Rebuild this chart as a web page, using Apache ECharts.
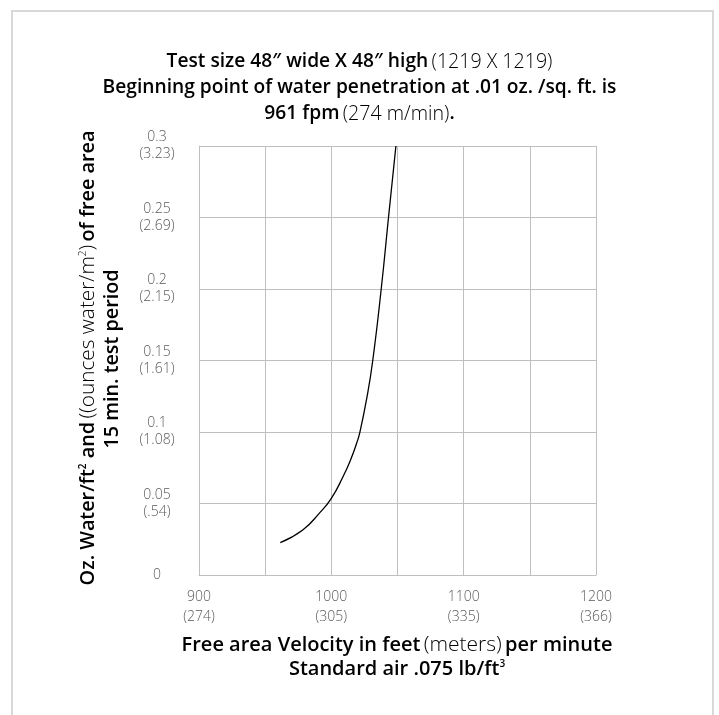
<!DOCTYPE html>
<html>
<head>
<meta charset="utf-8">
<script src="https://cdn.jsdelivr.net/npm/echarts@6/dist/echarts.min.js"></script>
<style>
html,body{margin:0;padding:0;background:#fff;}
#chart{width:719px;height:715px;}
</style>
</head>
<body>
<div id="chart"></div>
<script>
// ---- data ----
var velocityFpm = [961.4, 978.4, 991.0, 1000.0, 1008.8, 1014.5, 1019.1, 1021.5, 1027.0, 1031.3, 1037.7, 1043.2, 1048.8];
var waterOz     = [0.0226, 0.0315, 0.0433, 0.0536, 0.0687, 0.0804, 0.0921, 0.0995, 0.1247, 0.15, 0.2, 0.25, 0.3];
var xTickValues = [900, 1000, 1100, 1200];
var xTickMetric = ['(274)', '(305)', '(335)', '(366)'];
var yTickValues = [0, 0.05, 0.1, 0.15, 0.2, 0.25, 0.3];
var yTickLabels = ['0', '0.05', '0.1', '0.15', '0.2', '0.25', '0.3'];
var yTickMetric = ['', '(.54)', '(1.08)', '(1.61)', '(2.15)', '(2.69)', '(3.23)'];

var FONT = '"Open Sans", Lato, sans-serif';
var DARK = '#5a5a5a';
var LIGHT = '#6a6a6a';

var seriesData = velocityFpm.map(function (v, i) { return [v, waterOz[i]]; });

function richStyles(bSize, lSize) {
  return {
    b: { fontFamily: FONT, fontSize: bSize, fontWeight: 600, color: DARK },
    l: { fontFamily: FONT, fontSize: lSize, fontWeight: 300, color: LIGHT },
    bs: { fontFamily: FONT, fontSize: 10, fontWeight: 600, color: DARK, padding: [0, 0, 9, 0] },
    ls: { fontFamily: FONT, fontSize: 10, fontWeight: 300, color: LIGHT, padding: [0, 0, 9, 0] }
  };
}

function textEl(x, y, text, rot, bSize, lSize) {
  return {
    type: 'text',
    x: x, y: y,
    rotation: rot || 0,
    style: {
      text: text,
      align: 'center',
      verticalAlign: 'middle',
      rich: richStyles(bSize, lSize)
    }
  };
}

var chart = echarts.init(document.getElementById('chart'));
chart.setOption({
  animation: false,
  backgroundColor: '#fff',
  grid: { left: 199, top: 146, width: 397, height: 429, containLabel: false },
  xAxis: {
    type: 'value',
    min: 900, max: 1200, interval: 50,
    axisLine: { show: true, lineStyle: { color: '#bfbfbf', width: 1 } },
    axisTick: { show: false },
    splitLine: { show: true, lineStyle: { color: '#bfbfbf', width: 1 } },
    axisLabel: {
      margin: 12,
      fontFamily: FONT, fontSize: 14, fontWeight: 300, color: DARK, lineHeight: 20,
      formatter: function (v) {
        var i = xTickValues.indexOf(v);
        return i < 0 ? '' : v + '\n' + xTickMetric[i];
      }
    }
  },
  yAxis: {
    type: 'value',
    min: 0, max: 0.3, interval: 0.05,
    axisLine: { show: true, lineStyle: { color: '#bfbfbf', width: 1 } },
    axisTick: { show: false },
    splitLine: { show: true, lineStyle: { color: '#bfbfbf', width: 1 } },
    axisLabel: {
      margin: 42, align: 'center',
      fontFamily: FONT, fontSize: 14, fontWeight: 300, color: DARK, lineHeight: 17,
      padding: [5, 0, 0, 0],
      formatter: function (v) {
        var i = -1;
        for (var k = 0; k < yTickValues.length; k++) { if (Math.abs(yTickValues[k] - v) < 1e-9) i = k; }
        if (i < 0) return '';
        return yTickMetric[i] ? yTickLabels[i] + '\n' + yTickMetric[i] : yTickLabels[i];
      }
    }
  },
  series: [{
    type: 'line',
    data: seriesData,
    smooth: 0.5,
    showSymbol: false,
    lineStyle: { color: '#000', width: 1.3 }
  }],
  graphic: [
    { type: 'rect', shape: { x: 12, y: 11, width: 701, height: 730 }, style: { fill: 'none', stroke: '#d9d9d9', lineWidth: 2 } },
    textEl(359.5, 62, '{b|Test size 48″ wide X 48″ high} {l|(1219 X 1219)}', 0, 19.2, 19.6),
    textEl(359.5, 88, '{b|Beginning point of water penetration at .01 oz. /sq. ft. is}', 0, 19.2, 19.6),
    textEl(359.5, 114, '{b|961 fpm} {l|(274 m/min)}{b|.}', 0, 19.2, 19.6),
    textEl(88, 358, '{b|Oz. Water/ft}{bs|2}{b| and} {l|((ounces water/m}{ls|2}{l|)} {b|of free area}', Math.PI / 2, 19.8, 20.8),
    textEl(112, 359, '{b|15 min. test period}', Math.PI / 2, 19.8, 20.8),
    textEl(397, 645, '{b|Free area Velocity in feet} {l|(meters)} {b|per minute}', 0, 20, 21),
    textEl(397, 669, '{b|Standard air .075 lb/ft}{bs|3}', 0, 20, 21)
  ]
});
</script>
</body>
</html>
